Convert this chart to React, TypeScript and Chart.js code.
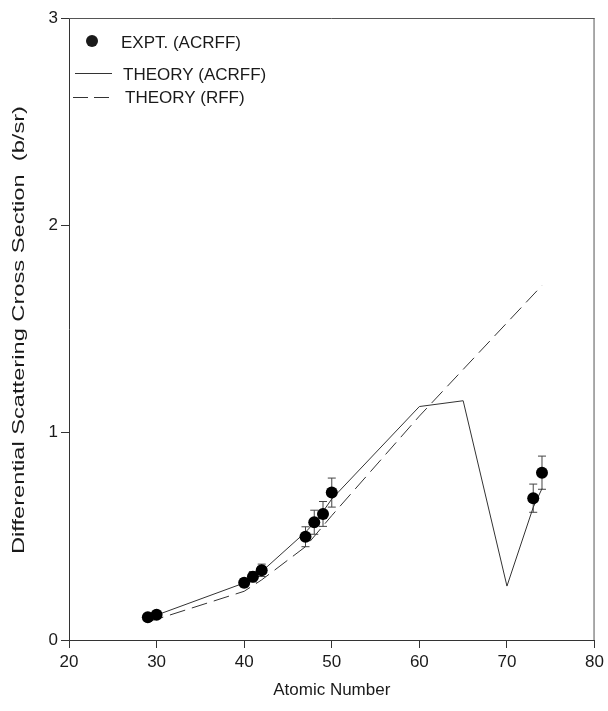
import { useEffect, useRef } from "react";
import { Chart, registerables } from "chart.js";

Chart.register(...registerables);

// ---- data ----
const exptZ = [29, 30, 40, 41, 42, 47, 48, 49, 50, 73, 74];
const exptValues = [0.11, 0.122, 0.276, 0.305, 0.336, 0.498, 0.568, 0.608, 0.711, 0.684, 0.807];
const exptErrors = [0.01, 0.01, 0.02, 0.025, 0.03, 0.048, 0.058, 0.06, 0.07, 0.068, 0.08];

const acrffZ = [29, 30, 40, 41, 42, 47, 48, 49, 50, 60, 65, 70, 73, 74];
const acrffValues = [0.11, 0.12, 0.275, 0.3, 0.33, 0.52, 0.565, 0.62, 0.68, 1.126, 1.154, 0.26, 0.64, 0.73];

const rffZ = [29, 30, 40, 42, 47, 50, 60, 74];
const rffValues = [0.09, 0.1, 0.235, 0.29, 0.45, 0.6, 1.08, 1.71];

const xTicks = [20, 30, 40, 50, 60, 70, 80];
const yTicks = [0, 1, 2, 3];

const legendLabels = ["EXPT. (ACRFF)", "THEORY (ACRFF)", "THEORY (RFF)"];
const xTitle = "Atomic Number";
const yTitle = "Differential Scattering Cross Section  (b/sr)";

const FONT = "'Liberation Sans', Arial, sans-serif";
const INK = "#1a1a1a";

const errorBarPlugin = {
  id: "errorBars",
  beforeDatasetsDraw(chart: any) {
    const { ctx, scales } = chart;
    ctx.save();
    ctx.strokeStyle = "#444";
    ctx.lineWidth = 1;
    exptZ.forEach((z, i) => {
      const x = scales.x.getPixelForValue(z);
      const yt = scales.y.getPixelForValue(exptValues[i] + exptErrors[i]);
      const yb = scales.y.getPixelForValue(exptValues[i] - exptErrors[i]);
      ctx.beginPath();
      ctx.moveTo(x, yt);
      ctx.lineTo(x, yb);
      ctx.moveTo(x - 4, yt);
      ctx.lineTo(x + 4, yt);
      ctx.moveTo(x - 4, yb);
      ctx.lineTo(x + 4, yb);
      ctx.stroke();
    });
    ctx.restore();
  },
};

const decorPlugin = {
  id: "decor",
  afterDraw(chart: any) {
    const { ctx, chartArea } = chart;
    const { left, right, top, bottom } = chartArea;
    ctx.save();
    // frame top & right
    ctx.strokeStyle = "#555";
    ctx.lineWidth = 1;
    ctx.beginPath();
    ctx.moveTo(left, top + 0.5);
    ctx.lineTo(right, top + 0.5);
    ctx.moveTo(right - 0.5, top);
    ctx.lineTo(right - 0.5, bottom);
    ctx.stroke();

    // legend
    ctx.fillStyle = INK;
    ctx.font = `17px ${FONT}`;
    ctx.textBaseline = "middle";
    ctx.textAlign = "left";
    ctx.beginPath();
    ctx.arc(92, 41, 6, 0, Math.PI * 2);
    ctx.fill();
    ctx.fillText(legendLabels[0], 121, 43);

    ctx.strokeStyle = "#333";
    ctx.beginPath();
    ctx.moveTo(75, 73.5);
    ctx.lineTo(112, 73.5);
    ctx.stroke();
    ctx.fillText(legendLabels[1], 123, 75);

    ctx.setLineDash([15, 6]);
    ctx.beginPath();
    ctx.moveTo(73, 97.5);
    ctx.lineTo(111, 97.5);
    ctx.stroke();
    ctx.setLineDash([]);
    ctx.fillText(legendLabels[2], 125, 98);

    // axis titles
    ctx.textAlign = "center";
    ctx.fillText(xTitle, (left + right) / 2, 690);

    ctx.translate(19, 330);
    ctx.rotate(-Math.PI / 2);
    const w = ctx.measureText(yTitle).width;
    const target = 448;
    ctx.scale(target / w, 1);
    ctx.fillText(yTitle, 0, 0);
    ctx.restore();
  },
};

export default function App() {
  const ref = useRef<HTMLCanvasElement | null>(null);

  useEffect(() => {
    if (!ref.current) return;
    const chart = new Chart(ref.current, {
      type: "scatter",
      data: {
        datasets: [
          {
            label: legendLabels[0],
            data: exptZ.map((z, i) => ({ x: z, y: exptValues[i] })),
            pointRadius: 6,
            pointHoverRadius: 6,
            backgroundColor: "#000",
            borderColor: "#000",
            borderWidth: 0,
            showLine: false,
          },
          {
            label: legendLabels[1],
            type: "line",
            data: acrffZ.map((z, i) => ({ x: z, y: acrffValues[i] })),
            borderColor: "#333",
            borderWidth: 1,
            pointRadius: 0,
            tension: 0,
            fill: false,
          },
          {
            label: legendLabels[2],
            type: "line",
            data: rffZ.map((z, i) => ({ x: z, y: rffValues[i] })),
            borderColor: "#333",
            borderWidth: 1,
            borderDash: [16, 7],
            pointRadius: 0,
            tension: 0,
            fill: false,
          },
        ] as any,
      },
      options: {
        animation: false,
        responsive: false,
        maintainAspectRatio: false,
        layout: { padding: { top: 18, right: 12, left: 0, bottom: 0 } },
        plugins: {
          legend: { display: false },
          tooltip: { enabled: false },
        },
        scales: {
          x: {
            type: "linear",
            min: 20,
            max: 80,
            afterBuildTicks: (s: any) => {
              s.ticks = xTicks.map((v) => ({ value: v }));
            },
            afterFit: (s: any) => {
              s.height = 71;
            },
            ticks: {
              font: { size: 17, family: FONT },
              color: INK,
              padding: 4,
              maxRotation: 0,
            },
            grid: { drawOnChartArea: false, tickLength: 8, color: "#333" },
            border: { color: "#333", width: 1 },
          },
          y: {
            type: "linear",
            min: 0,
            max: 3,
            afterBuildTicks: (s: any) => {
              s.ticks = yTicks.map((v) => ({ value: v }));
            },
            afterFit: (s: any) => {
              s.width = 69;
            },
            ticks: {
              font: { size: 17, family: FONT },
              color: INK,
              padding: 3,
            },
            grid: { drawOnChartArea: false, tickLength: 8, color: "#333" },
            border: { color: "#333", width: 1 },
          },
        },
      },
      plugins: [errorBarPlugin, decorPlugin],
    } as any);
    return () => chart.destroy();
  }, []);

  return (
    <div style={{ position: "absolute", left: 0, top: 0, width: 608, height: 711, background: "#fff" }}>
      <canvas ref={ref} width={608} height={711} style={{ display: "block" }} />
    </div>
  );
}
